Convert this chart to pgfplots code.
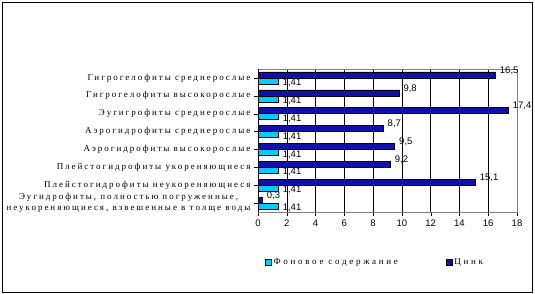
\documentclass[border=0pt]{standalone}
\usepackage{fontspec}
\setmainfont{Liberation Serif}
\newfontfamily\lab[LetterSpace=22]{Liberation Serif}
\newfontfamily\leg[LetterSpace=30]{Liberation Serif}
\newfontfamily\num{Liberation Sans}
\usepackage{pgfplots}
\pgfplotsset{compat=1.18}
\definecolor{zinc}{RGB}{16,16,170}
\definecolor{fon}{RGB}{0,204,255}
\begin{document}
\begin{tikzpicture}
\useasboundingbox (0,0) rectangle (535pt,294pt);
\draw[black, line width=0.8pt] (2pt,2pt) rectangle (532pt,292pt);
\begin{axis}[
  at={(258pt,82pt)}, anchor=south west, scale only axis,
  width=259pt, height=143pt,
  xbar, bar width=6pt,
  xmin=0, xmax=18, ymin=-0.5, ymax=7.5,
  xtick={0,2,...,18}, ytick={0,...,7},
  xtick pos=bottom, ytick pos=left,
  yticklabels={{Эугидрофиты, полностью погруженные,\\неукореняющиеся, взвешенные в толще воды},
    Плейстогидрофиты неукореняющиеся,
    Плейстогидрофиты укореняющиеся,
    Аэрогидрофиты высокорослые,
    Аэрогидрофиты среднерослые,
    Эугигрофиты среднерослые,
    Гигрогелофиты высокорослые,
    Гигрогелофиты среднерослые},
  yticklabel style={font=\lab\fontsize{9}{11}\selectfont, align=center},
  xticklabels={0,2,4,6,8,10,12,14,16,18},
  xticklabel style={font=\num\fontsize{9.5}{11}\selectfont},
  tick align=outside, major tick length=4pt,
  tick style={black},
  xmajorgrids, grid style={black, line width=0.5pt},
  axis line style={draw=gray},
  legend style={at={(0.452,-0.35)}, anchor=center, draw=none, fill=none,
    legend columns=2, font=\leg\fontsize{9}{11}\selectfont,
    /tikz/every even column/.append style={column sep=46pt}},
  legend image code/.code={\draw[#1, draw=black] (0pt,-3pt) rectangle (6pt,3pt);},
]
\draw[black] (rel axis cs:0,1) -- (rel axis cs:0,0) -- (rel axis cs:1,0);
\addplot[draw=black, fill=fon, bar shift=-3pt,
  point meta=explicit symbolic,
  nodes near coords, nodes near coords style={font=\num\fontsize{9.5}{11}\selectfont, anchor=west, yshift=-2pt, xshift=1pt, text=black}]
  coordinates {(1.41,0) [1,41] (1.41,1) [1,41] (1.41,2) [1,41] (1.41,3) [1,41] (1.41,4) [1,41] (1.41,5) [1,41] (1.41,6) [1,41] (1.41,7) [1,41]};
\addlegendentry{Фоновое содержание}
\addplot[draw=black, fill=zinc, bar shift=3pt,
  point meta=explicit symbolic,
  nodes near coords, nodes near coords style={font=\num\fontsize{9.5}{11}\selectfont, anchor=south west, yshift=-3pt, xshift=1pt, text=black}]
  coordinates {(0.3,0) [0,3] (15.1,1) [15,1] (9.2,2) [9,2] (9.5,3) [9,5] (8.7,4) [8,7] (17.4,5) [17,4] (9.8,6) [9,8] (16.5,7) [16,5]};
\addlegendentry{Цинк}
\end{axis}
\end{tikzpicture}
\end{document}
